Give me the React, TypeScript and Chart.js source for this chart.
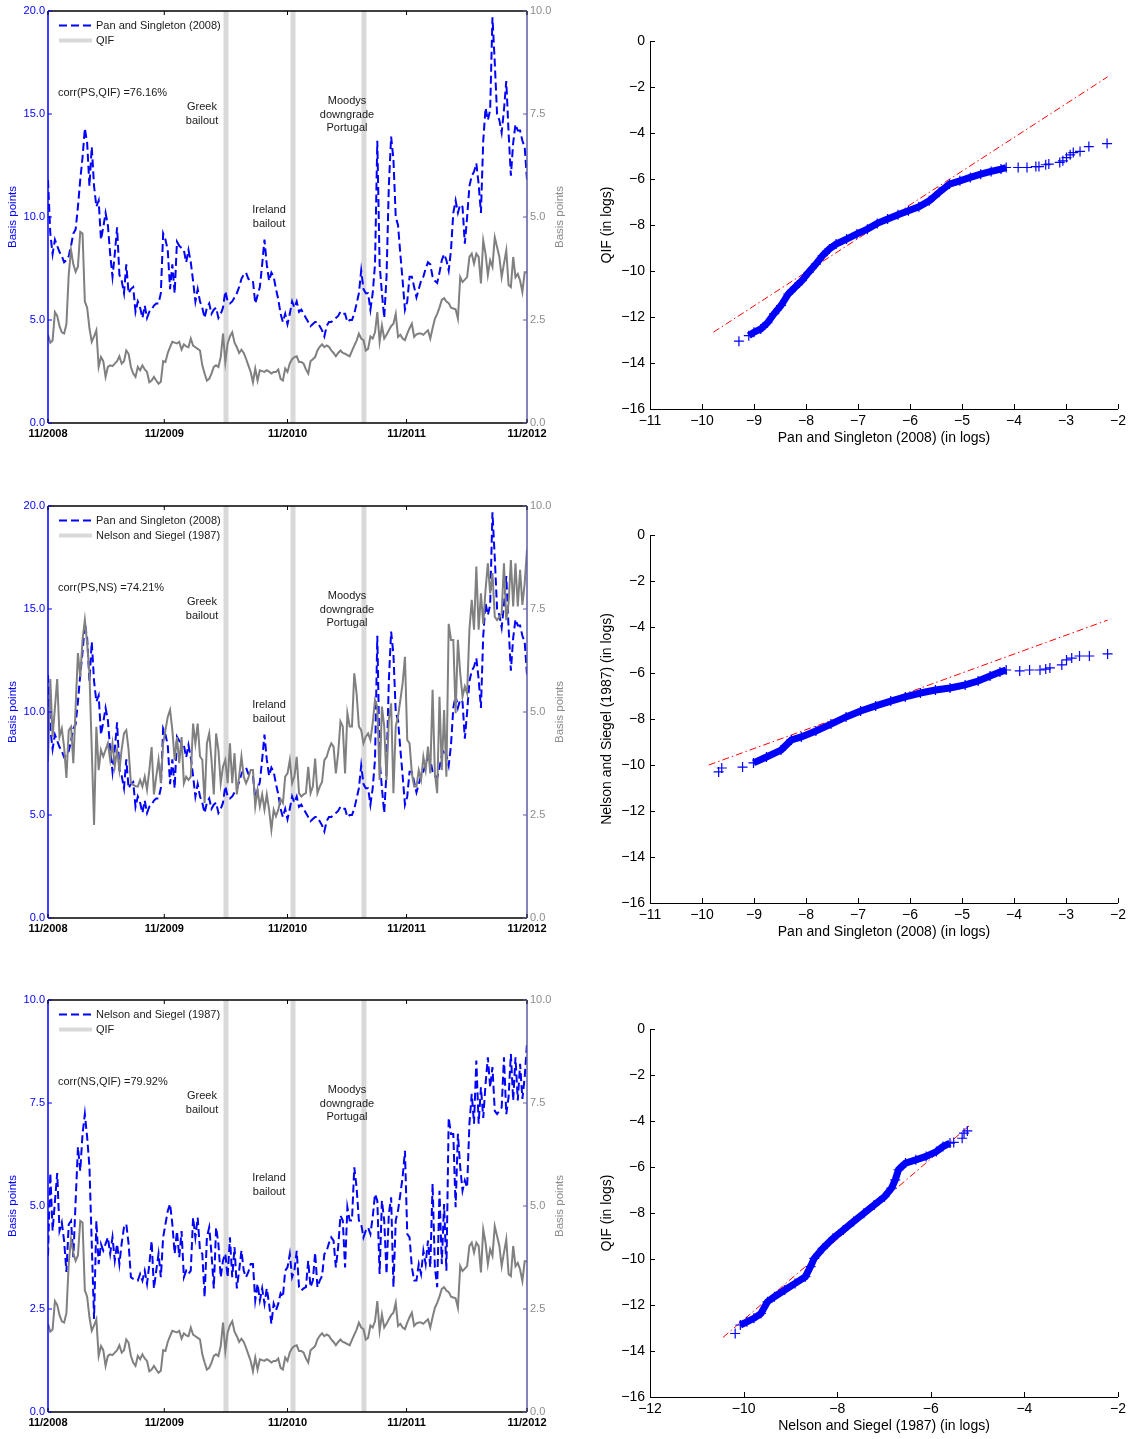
import React, { useEffect, useRef } from "react";
import { Chart, registerables } from "chart.js";
Chart.register(...registerables);

const FONT = '"Liberation Sans", Arial, Helvetica, sans-serif';
Chart.defaults.font.family = FONT;

// ---------- time series data (weekly, 11/2008 .. 11/2012) ----------
const PS = [
  11.8, 9.2, 8.2, 8.9, 8.6, 8.3, 8.1, 7.8, 7.9, 8.1,
  8.6, 9.2, 9.4, 10.5, 11.8, 12.9, 14.3, 13.6, 11.5, 13.4,
  11.5, 10.5, 10.8, 8.9, 9.5, 10.2, 9.6, 8.2, 7.1, 8.2,
  9.5, 7.2, 6.9, 6.3, 7.7, 6.3, 6.5, 6.6, 5.4, 5.9,
  5.6, 5.1, 5.7, 5.1, 5.4, 5.5, 5.7, 5.8, 5.8, 6.3,
  9.2, 8.9, 8.4, 6.5, 7.7, 6.3, 8.8, 8.6, 8.5, 8.4,
  7.8, 8.4, 7.8, 6.9, 5.9, 6.5, 5.9, 5.6, 5.1, 5.6,
  5.8, 5.3, 5.5, 5.6, 5.1, 5.3, 5.6, 6.4, 5.9, 5.8,
  5.9, 6.1, 6.3, 6.6, 7.0, 7.2, 7.3, 7.0, 6.9, 6.9,
  5.8, 6.2, 6.6, 7.7, 8.9, 7.7, 6.9, 7.3, 7.1, 6.5,
  6.0, 5.3, 4.9, 5.3, 4.8, 5.3, 5.9, 5.6, 5.9, 5.4,
  5.5, 5.3, 5.1, 4.9, 4.7, 4.8, 4.9, 4.9, 4.7, 4.5,
  4.2, 4.7, 4.9, 4.9, 5.0, 5.1, 5.2, 5.4, 5.3, 5.3,
  4.9, 5.0, 5.0, 5.3, 5.8, 6.3, 7.4, 6.5, 6.3, 6.3,
  5.5, 6.3, 7.7, 13.7, 7.7, 6.3, 5.1, 7.1, 11.5, 13.9,
  12.8, 10.0, 9.6, 8.2, 6.9, 5.5, 5.9, 7.1, 7.1, 6.6,
  6.1, 6.5, 6.9, 7.1, 7.5, 7.8, 7.7, 7.1, 6.9, 6.8,
  7.3, 7.9, 8.2, 7.9, 7.4, 8.4, 10.2, 10.8, 10.2, 10.6,
  10.5, 8.7, 10.0, 11.5, 12.0, 12.2, 12.6, 11.6, 10.2, 13.7,
  15.3, 14.7, 15.2, 19.7, 17.5, 15.0, 14.7, 14.1, 15.2, 16.6,
  14.1, 12.0, 13.6, 14.5, 14.2, 14.2, 13.7, 13.4, 11.8,
];

const QIF = [
  2.14, 1.95, 2.0, 2.69, 2.6, 2.35, 2.2, 2.17, 2.4, 3.6,
  4.2, 3.85, 3.67, 3.8, 4.64, 4.6, 2.95, 2.8, 2.3, 1.97,
  2.1, 2.25, 1.36, 1.6, 1.5, 1.12, 1.36, 1.4, 1.38, 1.44,
  1.5, 1.62, 1.44, 1.5, 1.76, 1.68, 1.36, 1.2, 1.12, 1.36,
  1.28, 1.4, 1.3, 1.24, 0.99, 1.03, 1.12, 1.03, 0.95, 1.0,
  1.5, 1.48, 1.7, 1.84, 1.97, 1.95, 1.93, 1.97, 1.78, 1.91,
  1.86, 1.84, 2.05, 1.88, 1.84, 1.8, 1.76, 1.4, 1.2, 1.03,
  1.07, 1.2, 1.36, 1.4, 1.36, 1.6, 2.17, 1.48, 1.93, 2.1,
  2.2, 1.95, 1.84, 1.7, 1.78, 1.7, 1.56, 1.4, 1.24, 0.99,
  1.32, 1.03, 1.28, 1.26, 1.24, 1.28, 1.25, 1.2, 1.24, 1.24,
  1.3, 1.07, 1.03, 1.32, 1.24, 1.45, 1.55, 1.6, 1.62, 1.48,
  1.48, 1.44, 1.3, 1.2, 1.5, 1.55, 1.6, 1.76, 1.85, 1.91,
  1.84, 1.88, 1.85, 1.76, 1.7, 1.62, 1.7, 1.76, 1.7, 1.68,
  1.65, 1.62, 1.75, 1.88, 2.0, 2.17, 2.05, 2.01, 1.76, 1.8,
  2.1, 2.05, 2.2, 2.69, 1.97, 2.37, 2.05, 2.14, 2.25, 2.35,
  2.41, 2.65, 2.09, 2.14, 2.05, 2.01, 2.17, 2.3, 2.41, 2.09,
  2.15, 2.17, 2.17, 2.14, 2.2, 2.25, 2.05, 2.3, 2.53, 2.65,
  2.8, 2.99, 3.03, 2.95, 2.91, 2.8, 2.78, 2.76, 2.53, 3.54,
  3.42, 3.48, 3.54, 4.03, 4.11, 3.87, 4.11, 4.03, 3.39, 4.43,
  4.11, 3.59, 3.95, 3.79, 4.51, 4.27, 4.03, 3.54, 3.87, 4.19,
  3.35, 3.3, 4.03, 3.54, 3.62, 3.46, 3.18, 3.66, 3.66,
];

const NS = [
  3.8, 5.8, 4.4, 5.1, 5.8, 4.4, 4.6, 4.15, 3.4, 4.55,
  4.64, 3.76, 5.12, 6.43, 5.85, 6.75, 7.23, 6.67, 5.95, 4.08,
  2.26, 4.64, 3.59, 4.08, 3.92, 4.08, 4.24, 3.84, 4.24, 3.68,
  4.08, 3.59, 4.1, 4.48, 4.56, 4.08, 3.27, 3.23, 3.2, 3.19,
  3.35, 3.19, 3.43, 3.11, 3.59, 4.15, 3.0, 3.43, 3.84, 3.27,
  4.24, 4.56, 4.88, 5.05, 4.56, 3.84, 4.39, 3.76, 4.39, 3.27,
  3.43, 3.35, 3.43, 4.72, 4.24, 4.72, 3.92, 3.84, 2.79, 4.24,
  4.48, 3.84, 3.0, 4.48, 4.08, 3.27, 3.68, 3.84, 3.27, 4.24,
  3.27, 4.0, 3.0, 3.43, 3.92, 3.43, 3.27, 3.4, 3.59, 3.59,
  2.71, 3.11, 2.71, 3.0, 2.63, 3.0, 2.63, 2.14, 2.63, 2.47,
  2.63, 2.88, 2.79, 3.43, 3.51, 3.83, 3.27, 3.43, 3.91, 3.03,
  2.95, 3.0, 3.03, 3.67, 3.03, 3.19, 3.87, 3.03, 3.19, 3.3,
  3.83, 3.91, 4.1, 4.24, 4.16, 3.51, 4.0, 4.77, 4.65, 3.51,
  4.97, 4.65, 4.65, 5.94, 5.45, 4.65, 4.56, 4.24, 4.4, 4.48,
  4.32, 4.73, 5.29, 5.13, 3.35, 5.13, 4.65, 3.35, 4.81, 5.21,
  3.03, 4.65, 4.89, 5.29, 5.7, 6.34, 4.32, 4.24, 3.51, 3.19,
  3.19, 3.59, 3.35, 3.91, 3.59, 4.16, 3.51, 5.54, 3.51, 3.03,
  5.37, 3.59, 5.05, 3.43, 7.14, 6.75, 6.75, 4.97, 6.75, 5.94,
  5.37, 5.62, 5.45, 7.0, 7.72, 7.0, 8.53, 7.0, 7.88, 7.14,
  7.96, 8.61, 7.88, 8.37, 7.31, 7.23, 7.31, 7.39, 8.61, 7.23,
  7.64, 8.69, 7.56, 8.61, 7.56, 8.45, 7.6, 8.13, 8.94,
];

const X_TICK_WEEKS = [0, 50.5, 104, 155.7, 208];
const X_TICK_LABELS = ["11/2008", "11/2009", "11/2010", "11/2011", "11/2012"];
const EVENT_WEEKS = [77.3, 106.4, 137.2];
const EVENT_TEXT = [["Greek", "bailout"], ["Ireland", "bailout"], ["Moodys", "downgrade", "Portugal"]];

// ---------- QQ plot data (log quantiles) ----------
const QQ1_BAND_X = [-9.1, -9.0, -8.87, -8.74, -8.61, -8.48, -8.34, -8.21, -8.08, -7.95, -7.81, -7.68, -7.55, -7.42, -7.22, -7.02, -6.82, -6.63, -6.43, -6.23, -6.03, -5.83, -5.63, -5.44, -5.24, -5.04, -4.84, -4.64, -4.44, -4.25, -4.15];
const QQ1_BAND_Y = [-12.81, -12.66, -12.52, -12.25, -11.85, -11.5, -11.0, -10.71, -10.42, -10.06, -9.7, -9.33, -9.04, -8.83, -8.61, -8.39, -8.18, -7.93, -7.74, -7.55, -7.38, -7.21, -6.95, -6.58, -6.22, -6.08, -5.93, -5.79, -5.67, -5.57, -5.5];
const QQ1_TAIL_X = [-9.29, -3.92, -3.75, -3.58, -3.52, -3.39, -3.33, -3.12, -3.06, -2.99, -2.92, -2.86, -2.73, -2.56, -2.21];
const QQ1_TAIL_Y = [-13.05, -5.5, -5.5, -5.46, -5.46, -5.38, -5.35, -5.28, -5.21, -5.07, -4.95, -4.85, -4.8, -4.59, -4.46];
const QQ1_REF_X = [-9.78, -2.2];
const QQ1_REF_Y = [-12.66, -1.56];

const QQ2_BAND_X = [-9.01, -8.76, -8.48, -8.28, -8.09, -7.81, -7.52, -7.23, -6.95, -6.66, -6.37, -6.09, -5.8, -5.51, -5.23, -4.94, -4.69, -4.46, -4.27, -4.15];
const QQ2_BAND_Y = [-9.91, -9.65, -9.35, -8.91, -8.78, -8.52, -8.22, -7.91, -7.65, -7.43, -7.22, -7.04, -6.87, -6.74, -6.65, -6.52, -6.35, -6.13, -5.96, -5.87];
const QQ2_TAIL_X = [-9.68, -9.62, -9.22, -3.89, -3.7, -3.5, -3.39, -3.31, -3.08, -2.99, -2.89, -2.74, -2.55, -2.2];
const QQ2_TAIL_Y = [-10.3, -10.13, -10.09, -5.91, -5.87, -5.87, -5.83, -5.78, -5.65, -5.43, -5.35, -5.26, -5.26, -5.17];
const QQ2_REF_X = [-9.87, -2.2];
const QQ2_REF_Y = [-10.0, -3.7];

const QQ3_BAND_X = [-10.07, -9.93, -9.78, -9.63, -9.49, -9.34, -9.12, -8.9, -8.68, -8.57, -8.49, -8.31, -8.09, -7.87, -7.65, -7.43, -7.21, -6.99, -6.84, -6.76, -6.69, -6.54, -6.32, -6.1, -5.88, -5.74, -5.59];
const QQ3_BAND_Y = [-12.87, -12.73, -12.58, -12.37, -11.86, -11.64, -11.35, -11.06, -10.77, -10.33, -9.97, -9.54, -9.1, -8.74, -8.37, -8.01, -7.65, -7.29, -6.92, -6.56, -6.12, -5.83, -5.69, -5.54, -5.33, -5.11, -4.96];
const QQ3_TAIL_X = [-10.18, -5.51, -5.33, -5.29, -5.22];
const QQ3_TAIL_Y = [-13.24, -4.93, -4.75, -4.53, -4.43];
const QQ3_REF_X = [-10.44, -5.18];
const QQ3_REF_Y = [-13.41, -4.21];

// ---------- styles ----------
const BLUE = "#0000ff";
const GRAY_LINE = "#808080";
const BAR = "#d9d9d9";
const RIGHT_AXIS = "#5c5ca8";
const GRAY_TEXT = "#8c8c8c";
const TEXT = "#1a1a1a";

const TS_PANELS = [
  { top: 11, blue: PS, blueLabel: "Pan and Singleton (2008)", gray: QIF, grayLabel: "QIF", leftMax: 20, leftStep: 5, corr: "corr(PS,QIF) =76.16%", irelandDy: 199 },
  { top: 506, blue: PS, blueLabel: "Pan and Singleton (2008)", gray: NS, grayLabel: "Nelson and Siegel (1987)", leftMax: 20, leftStep: 5, corr: "corr(PS,NS) =74.21%", irelandDy: 199 },
  { top: 1000, blue: NS, blueLabel: "Nelson and Siegel (1987)", gray: QIF, grayLabel: "QIF", leftMax: 10, leftStep: 2.5, corr: "corr(NS,QIF) =79.92%", irelandDy: 178 },
];

const QQ_PANELS = [
  { top: 41, xMin: -11, xStep: 1, xTitle: "Pan and Singleton (2008) (in logs)", yTitle: "QIF (in logs)", bandX: QQ1_BAND_X, bandY: QQ1_BAND_Y, tailX: QQ1_TAIL_X, tailY: QQ1_TAIL_Y, refX: QQ1_REF_X, refY: QQ1_REF_Y },
  { top: 535, xMin: -11, xStep: 1, xTitle: "Pan and Singleton (2008) (in logs)", yTitle: "Nelson and Siegel (1987) (in logs)", bandX: QQ2_BAND_X, bandY: QQ2_BAND_Y, tailX: QQ2_TAIL_X, tailY: QQ2_TAIL_Y, refX: QQ2_REF_X, refY: QQ2_REF_Y },
  { top: 1029, xMin: -12, xStep: 2, xTitle: "Nelson and Siegel (1987) (in logs)", yTitle: "QIF (in logs)", bandX: QQ3_BAND_X, bandY: QQ3_BAND_Y, tailX: QQ3_TAIL_X, tailY: QQ3_TAIL_Y, refX: QQ3_REF_X, refY: QQ3_REF_Y },
];

const toXY = (arr: number[]) => arr.map((v, i) => ({ x: i, y: v }));
const zip = (xs: number[], ys: number[]) => xs.map((v, i) => ({ x: v, y: ys[i] }));
const fmtMinus = (v: any) => {
  const n = Number(v);
  return n < 0 ? "\u2212" + Math.abs(n) : String(n);
};

function seg(ctx: CanvasRenderingContext2D, x1: number, y1: number, x2: number, y2: number) {
  ctx.beginPath();
  ctx.moveTo(x1, y1);
  ctx.lineTo(x2, y2);
  ctx.stroke();
}

function tsPlugin(p: any) {
  return {
    id: "tsDecor",
    beforeDatasetsDraw(chart: any) {
      const { ctx, chartArea: a, scales } = chart;
      ctx.save();
      ctx.fillStyle = BAR;
      EVENT_WEEKS.forEach((w) => {
        const px = scales.x.getPixelForValue(w);
        ctx.fillRect(px - 2.5, a.top, 5, a.bottom - a.top);
      });
      ctx.restore();
    },
    afterDatasetsDraw(chart: any) {
      const { ctx, chartArea: a, scales } = chart;
      const { x, y, y2 } = scales;
      ctx.save();
      ctx.lineWidth = 1.5;
      ctx.strokeStyle = "#000";
      seg(ctx, a.left, a.top, a.right, a.top);
      seg(ctx, a.left, a.bottom, a.right, a.bottom);
      ctx.strokeStyle = BLUE;
      seg(ctx, a.left, a.top, a.left, a.bottom);
      ctx.strokeStyle = RIGHT_AXIS;
      seg(ctx, a.right, a.top, a.right, a.bottom);
      ctx.lineWidth = 1;
      ctx.strokeStyle = "#000";
      X_TICK_WEEKS.forEach((w) => {
        const px = x.getPixelForValue(w);
        seg(ctx, px, a.bottom, px, a.bottom - 4);
        seg(ctx, px, a.top, px, a.top + 4);
      });
      ctx.strokeStyle = BLUE;
      y.ticks.forEach((t: any) => {
        const py = y.getPixelForValue(t.value);
        seg(ctx, a.left, py, a.left + 4, py);
      });
      ctx.strokeStyle = RIGHT_AXIS;
      y2.ticks.forEach((t: any) => {
        const py = y2.getPixelForValue(t.value);
        seg(ctx, a.right, py, a.right - 4, py);
      });

      // legend
      ctx.lineWidth = 2;
      ctx.strokeStyle = BLUE;
      ctx.setLineDash([8, 4]);
      seg(ctx, a.left + 11, a.top + 14.5, a.left + 44, a.top + 14.5);
      ctx.setLineDash([]);
      ctx.lineWidth = 4;
      ctx.strokeStyle = BAR;
      seg(ctx, a.left + 11, a.top + 29.5, a.left + 44, a.top + 29.5);
      ctx.fillStyle = TEXT;
      ctx.font = `11px ${FONT}`;
      ctx.textBaseline = "middle";
      ctx.textAlign = "left";
      ctx.fillText(p.blueLabel, a.left + 48, a.top + 14.5);
      ctx.fillText(p.grayLabel, a.left + 48, a.top + 29.5);

      // annotations
      ctx.fillText(p.corr, a.left + 10, a.top + 82);
      ctx.textAlign = "center";
      const layout = [
        { dx: 154, dy: 96, lh: 14 },
        { dx: 221, dy: p.irelandDy, lh: 14 },
        { dx: 299, dy: 90, lh: 13.5 },
      ];
      EVENT_TEXT.forEach((lines, i) => {
        const L = layout[i];
        lines.forEach((s, k) => ctx.fillText(s, a.left + L.dx, a.top + L.dy + k * L.lh));
      });

      // right axis title
      ctx.fillStyle = GRAY_TEXT;
      ctx.font = `11.5px ${FONT}`;
      ctx.translate(a.right + 33, (a.top + a.bottom) / 2);
      ctx.rotate(-Math.PI / 2);
      ctx.fillText("Basis points", 0, 0);
      ctx.restore();
    },
  };
}

function tsConfig(p: any): any {
  return {
    type: "line",
    data: {
      datasets: [
        { label: p.grayLabel, data: toXY(p.gray), yAxisID: "y2", borderColor: GRAY_LINE, borderWidth: 2, pointRadius: 0, tension: 0, order: 0 },
        { label: p.blueLabel, data: toXY(p.blue), yAxisID: "y", borderColor: BLUE, borderWidth: 2, borderDash: [8, 4], pointRadius: 0, tension: 0, order: 1 },
      ],
    },
    options: {
      animation: false,
      responsive: false,
      maintainAspectRatio: false,
      layout: { padding: { top: 20, left: 0, right: 0, bottom: 0 } },
      plugins: { legend: { display: false }, tooltip: { enabled: false } },
      scales: {
        x: {
          type: "linear",
          min: 0,
          max: 208,
          grid: { display: false, drawTicks: false },
          border: { display: false },
          afterBuildTicks: (s: any) => {
            s.ticks = X_TICK_WEEKS.map((v) => ({ value: v }));
          },
          ticks: {
            callback: (_v: any, i: number) => X_TICK_LABELS[i],
            color: "#000",
            font: { size: 11, weight: "bold" },
            padding: 4,
            maxRotation: 0,
            minRotation: 0,
            autoSkip: false,
          },
          afterFit: (s: any) => {
            s.height = 30;
          },
        },
        y: {
          position: "left",
          min: 0,
          max: p.leftMax,
          grid: { display: false, drawTicks: false },
          border: { display: false },
          ticks: { stepSize: p.leftStep, callback: (v: any) => Number(v).toFixed(1), color: BLUE, font: { size: 11 }, padding: 3 },
          title: { display: true, text: "Basis points", color: BLUE, font: { size: 11.5 }, padding: { top: 6, bottom: 0 } },
          afterFit: (s: any) => {
            s.width = 48;
          },
        },
        y2: {
          position: "right",
          min: 0,
          max: 10,
          grid: { display: false, drawTicks: false },
          border: { display: false },
          ticks: { stepSize: 2.5, callback: (v: any) => Number(v).toFixed(1), color: GRAY_TEXT, font: { size: 11 }, padding: 3 },
          afterFit: (s: any) => {
            s.width = 53;
          },
        },
      },
    },
    plugins: [tsPlugin(p)],
  };
}

const qqPlugin = {
  id: "qqDecor",
  afterDraw(chart: any) {
    const { ctx, chartArea: a, scales } = chart;
    const { x, y } = scales;
    ctx.save();
    ctx.strokeStyle = "#000";
    ctx.lineWidth = 1;
    ctx.beginPath();
    ctx.moveTo(a.left + 0.5, a.top);
    ctx.lineTo(a.left + 0.5, a.bottom + 0.5);
    ctx.lineTo(a.right, a.bottom + 0.5);
    ctx.stroke();
    x.ticks.forEach((t: any) => {
      const px = Math.round(x.getPixelForValue(t.value)) + 0.5;
      seg(ctx, px, a.bottom, px, a.bottom - 5);
    });
    y.ticks.forEach((t: any) => {
      const py = Math.round(y.getPixelForValue(t.value)) + 0.5;
      seg(ctx, a.left, py, a.left + 5, py);
    });
    ctx.restore();
  },
};

function qqConfig(q: any): any {
  return {
    type: "scatter",
    data: {
      datasets: [
        { data: zip(q.refX, q.refY), showLine: true, borderColor: "#ff0000", borderWidth: 1, borderDash: [7, 3, 1.5, 3], pointRadius: 0, order: 3 },
        { data: zip(q.bandX, q.bandY), showLine: true, borderColor: BLUE, backgroundColor: BLUE, borderWidth: 7, tension: 0, pointStyle: "cross", pointRadius: 5, pointBorderWidth: 1.2, pointBorderColor: BLUE, order: 1 },
        { data: zip(q.tailX, q.tailY), showLine: false, borderColor: BLUE, backgroundColor: BLUE, pointStyle: "cross", pointRadius: 5, pointBorderWidth: 1.2, pointBorderColor: BLUE, order: 0 },
      ],
    },
    options: {
      animation: false,
      responsive: false,
      maintainAspectRatio: false,
      layout: { padding: { top: 20, right: 13, left: 0, bottom: 0 } },
      plugins: { legend: { display: false }, tooltip: { enabled: false } },
      scales: {
        x: {
          type: "linear",
          min: q.xMin,
          max: -2,
          grid: { display: false, drawTicks: false },
          border: { display: false },
          ticks: { stepSize: q.xStep, callback: fmtMinus, color: "#000", font: { size: 14 }, padding: 4, maxRotation: 0, autoSkip: false },
          title: { display: true, text: q.xTitle, color: "#000", font: { size: 14 }, padding: { top: 0, bottom: 7 } },
          afterFit: (s: any) => {
            s.height = 45;
          },
        },
        y: {
          type: "linear",
          min: -16,
          max: 0,
          grid: { display: false, drawTicks: false },
          border: { display: false },
          ticks: { stepSize: 2, callback: fmtMinus, color: "#000", font: { size: 14 }, padding: 5, autoSkip: false },
          title: { display: true, text: q.yTitle, color: "#000", font: { size: 14 }, padding: { top: 9, bottom: 0 } },
          afterFit: (s: any) => {
            s.width = 60;
          },
        },
      },
    },
    plugins: [qqPlugin],
  };
}

function ChartCanvas({ make, left, top, width, height }: any) {
  const ref = useRef<HTMLCanvasElement>(null);
  useEffect(() => {
    const chart = new Chart(ref.current as HTMLCanvasElement, make());
    return () => chart.destroy();
  }, []);
  return (
    <canvas
      ref={ref}
      width={width}
      height={height}
      style={{ position: "absolute", left, top, width, height }}
    />
  );
}

export default function App() {
  return (
    <div style={{ position: "absolute", left: 0, top: 0, width: 1131, height: 1439, background: "#fff", overflow: "hidden" }}>
      {TS_PANELS.map((p, i) => (
        <ChartCanvas key={"ts" + i} make={() => tsConfig(p)} left={0} top={p.top - 20} width={580} height={462} />
      ))}
      {QQ_PANELS.map((q, i) => (
        <ChartCanvas key={"qq" + i} make={() => qqConfig(q)} left={590} top={q.top - 20} width={541} height={433} />
      ))}
    </div>
  );
}
